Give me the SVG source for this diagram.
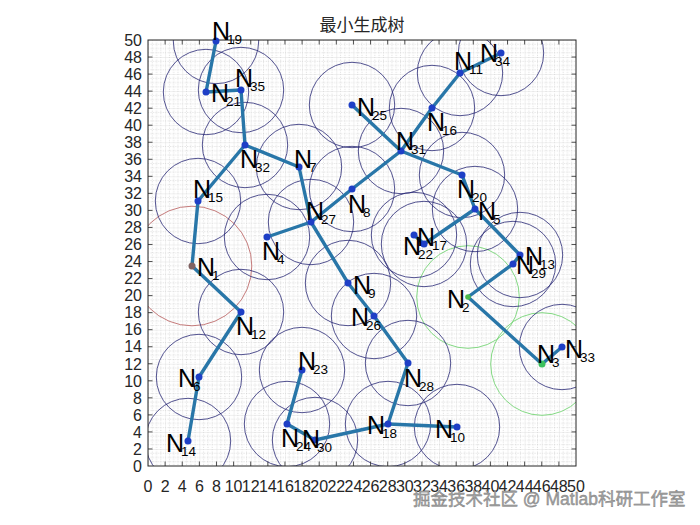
<svg xmlns="http://www.w3.org/2000/svg" width="700" height="525" viewBox="0 0 700 525">
<style>
.t{font-family:"Liberation Sans",Arial,sans-serif;font-size:16px;fill:#262626}
.lb{font-family:"Liberation Sans",Arial,sans-serif;font-size:25px;fill:#000}
.sb{font-size:13.5px}
.c{fill:none;stroke:#262673;stroke-width:0.8}
.cr{fill:none;stroke:#b85a5a;stroke-width:0.8}
.cg{fill:none;stroke:#66d066;stroke-width:0.8}
.e{stroke:#2876a8;stroke-width:3.4;stroke-linecap:round}
.d{fill:#1e3fc6}
</style>
<defs>
<clipPath id="ax"><rect x="148" y="40" width="428" height="426"/></clipPath>
<pattern id="grid" patternUnits="userSpaceOnUse" x="148" y="40" width="17.12" height="17.04">
<path d="M4.28 0V17.04M8.56 0V17.04M12.84 0V17.04M0 4.26H17.12M0 8.52H17.12M0 12.78H17.12" stroke="#c4c4c4" stroke-width="0.6" stroke-dasharray="1 1.5" fill="none"/>
<path d="M0 0V17.04M0 0H17.12" stroke="#d8d8d8" stroke-width="0.8" fill="none"/>
</pattern>
</defs>
<rect width="700" height="525" fill="#fff"/>
<g id="axes">
<rect x="148" y="40" width="428" height="426" fill="#fff"/>
<rect x="148" y="40" width="428" height="426" fill="url(#grid)"/>
</g>
<g id="circles" clip-path="url(#ax)">
<circle class="cr" cx="192" cy="266" r="59.8"/>
<circle class="cg" cx="468" cy="297" r="51.3"/>
<circle class="cg" cx="542" cy="364" r="51.3"/>
<circle class="c" cx="267" cy="237" r="42.7"/>
<circle class="c" cx="475" cy="209" r="42.7"/>
<circle class="c" cx="199" cy="377" r="42.7"/>
<circle class="c" cx="299" cy="167" r="42.7"/>
<circle class="c" cx="352" cy="189" r="42.7"/>
<circle class="c" cx="348" cy="283" r="42.7"/>
<circle class="c" cx="457" cy="427" r="42.7"/>
<circle class="c" cx="460" cy="73" r="42.7"/>
<circle class="c" cx="241" cy="312" r="42.7"/>
<circle class="c" cx="520" cy="255" r="42.7"/>
<circle class="c" cx="188" cy="441" r="42.7"/>
<circle class="c" cx="198" cy="201" r="42.7"/>
<circle class="c" cx="432" cy="108" r="42.7"/>
<circle class="c" cx="424" cy="244" r="42.7"/>
<circle class="c" cx="388" cy="424" r="42.7"/>
<circle class="c" cx="216" cy="41" r="42.7"/>
<circle class="c" cx="462" cy="175" r="42.7"/>
<circle class="c" cx="206" cy="92" r="42.7"/>
<circle class="c" cx="414" cy="235" r="42.7"/>
<circle class="c" cx="302" cy="370" r="42.7"/>
<circle class="c" cx="287" cy="424" r="42.7"/>
<circle class="c" cx="352" cy="105" r="42.7"/>
<circle class="c" cx="374" cy="316" r="42.7"/>
<circle class="c" cx="311" cy="222" r="42.7"/>
<circle class="c" cx="408" cy="363" r="42.7"/>
<circle class="c" cx="513" cy="264" r="42.7"/>
<circle class="c" cx="315" cy="440" r="42.7"/>
<circle class="c" cx="401" cy="151" r="42.7"/>
<circle class="c" cx="245" cy="145" r="42.7"/>
<circle class="c" cx="562" cy="347" r="42.7"/>
<circle class="c" cx="501" cy="53" r="42.7"/>
<circle class="c" cx="241" cy="90" r="42.7"/>
</g>
<g id="frame" fill="none" stroke="#262626">
<rect x="148" y="40" width="428" height="426" stroke-width="1"/>
<path stroke-width="0.8" d="M165.12 466v-4.5M165.12 40v4.5M182.24 466v-4.5M182.24 40v4.5M199.36 466v-4.5M199.36 40v4.5M216.48 466v-4.5M216.48 40v4.5M233.6 466v-4.5M233.6 40v4.5M250.72 466v-4.5M250.72 40v4.5M267.84 466v-4.5M267.84 40v4.5M284.96 466v-4.5M284.96 40v4.5M302.08 466v-4.5M302.08 40v4.5M319.2 466v-4.5M319.2 40v4.5M336.32 466v-4.5M336.32 40v4.5M353.44 466v-4.5M353.44 40v4.5M370.56 466v-4.5M370.56 40v4.5M387.68 466v-4.5M387.68 40v4.5M404.8 466v-4.5M404.8 40v4.5M421.92 466v-4.5M421.92 40v4.5M439.04 466v-4.5M439.04 40v4.5M456.16 466v-4.5M456.16 40v4.5M473.28 466v-4.5M473.28 40v4.5M490.4 466v-4.5M490.4 40v4.5M507.52 466v-4.5M507.52 40v4.5M524.64 466v-4.5M524.64 40v4.5M541.76 466v-4.5M541.76 40v4.5M558.88 466v-4.5M558.88 40v4.5M148 448.96h4.5M576 448.96h-4.5M148 431.92h4.5M576 431.92h-4.5M148 414.88h4.5M576 414.88h-4.5M148 397.84h4.5M576 397.84h-4.5M148 380.8h4.5M576 380.8h-4.5M148 363.76h4.5M576 363.76h-4.5M148 346.72h4.5M576 346.72h-4.5M148 329.68h4.5M576 329.68h-4.5M148 312.64h4.5M576 312.64h-4.5M148 295.6h4.5M576 295.6h-4.5M148 278.56h4.5M576 278.56h-4.5M148 261.52h4.5M576 261.52h-4.5M148 244.48h4.5M576 244.48h-4.5M148 227.44h4.5M576 227.44h-4.5M148 210.4h4.5M576 210.4h-4.5M148 193.36h4.5M576 193.36h-4.5M148 176.32h4.5M576 176.32h-4.5M148 159.28h4.5M576 159.28h-4.5M148 142.24h4.5M576 142.24h-4.5M148 125.2h4.5M576 125.2h-4.5M148 108.16h4.5M576 108.16h-4.5M148 91.12h4.5M576 91.12h-4.5M148 74.08h4.5M576 74.08h-4.5M148 57.04h4.5M576 57.04h-4.5"/>
</g>
<g id="xticks" class="t" text-anchor="middle">
<text x="148" y="492">0</text><text x="165.12" y="492">2</text><text x="182.24" y="492">4</text><text x="199.36" y="492">6</text><text x="216.48" y="492">8</text><text x="233.6" y="492">10</text><text x="250.72" y="492">12</text><text x="267.84" y="492">14</text><text x="284.96" y="492">16</text><text x="302.08" y="492">18</text><text x="319.2" y="492">20</text><text x="336.32" y="492">22</text><text x="353.44" y="492">24</text><text x="370.56" y="492">26</text><text x="387.68" y="492">28</text><text x="404.8" y="492">30</text><text x="421.92" y="492">32</text><text x="439.04" y="492">34</text><text x="456.16" y="492">36</text><text x="473.28" y="492">38</text><text x="490.4" y="492">40</text><text x="507.52" y="492">42</text><text x="524.64" y="492">44</text><text x="541.76" y="492">46</text><text x="558.88" y="492">48</text><text x="576" y="492">50</text>
</g>
<g id="yticks" class="t" text-anchor="end">
<text x="142" y="471.7">0</text><text x="142" y="454.7">2</text><text x="142" y="437.6">4</text><text x="142" y="420.6">6</text><text x="142" y="403.5">8</text><text x="142" y="386.5">10</text><text x="142" y="369.5">12</text><text x="142" y="352.4">14</text><text x="142" y="335.4">16</text><text x="142" y="318.3">18</text><text x="142" y="301.3">20</text><text x="142" y="284.3">22</text><text x="142" y="267.2">24</text><text x="142" y="250.2">26</text><text x="142" y="233.1">28</text><text x="142" y="216.1">30</text><text x="142" y="199.1">32</text><text x="142" y="182">34</text><text x="142" y="165">36</text><text x="142" y="147.9">38</text><text x="142" y="130.9">40</text><text x="142" y="113.9">42</text><text x="142" y="96.8">44</text><text x="142" y="79.8">46</text><text x="142" y="62.7">48</text><text x="142" y="45.7">50</text>
</g>
<text id="title" x="362" y="31" text-anchor="middle" style="font-family:'Noto Sans CJK SC',sans-serif;font-size:17px;fill:#262626">最小生成树</text>
<g id="connectors">
<line class="e" x1="216" y1="41" x2="206" y2="92"/>
<line class="e" x1="206" y1="92" x2="241" y2="90"/>
<line class="e" x1="241" y1="90" x2="245" y2="145"/>
<line class="e" x1="245" y1="145" x2="299" y2="167"/>
<line class="e" x1="245" y1="145" x2="198" y2="201"/>
<line class="e" x1="198" y1="201" x2="192" y2="266"/>
<line class="e" x1="192" y1="266" x2="241" y2="312"/>
<line class="e" x1="241" y1="312" x2="199" y2="377"/>
<line class="e" x1="199" y1="377" x2="188" y2="441"/>
<line class="e" x1="299" y1="167" x2="311" y2="222"/>
<line class="e" x1="267" y1="237" x2="311" y2="222"/>
<line class="e" x1="311" y1="222" x2="352" y2="189"/>
<line class="e" x1="352" y1="189" x2="401" y2="151"/>
<line class="e" x1="352" y1="105" x2="401" y2="151"/>
<line class="e" x1="401" y1="151" x2="432" y2="108"/>
<line class="e" x1="432" y1="108" x2="460" y2="73"/>
<line class="e" x1="460" y1="73" x2="501" y2="53"/>
<line class="e" x1="401" y1="151" x2="462" y2="175"/>
<line class="e" x1="462" y1="175" x2="475" y2="209"/>
<line class="e" x1="475" y1="209" x2="424" y2="244"/>
<line class="e" x1="424" y1="244" x2="414" y2="235"/>
<line class="e" x1="475" y1="209" x2="520" y2="255"/>
<line class="e" x1="520" y1="255" x2="513" y2="264"/>
<line class="e" x1="513" y1="264" x2="468" y2="297"/>
<line class="e" x1="468" y1="297" x2="542" y2="364"/>
<line class="e" x1="542" y1="364" x2="562" y2="347"/>
<line class="e" x1="311" y1="222" x2="348" y2="283"/>
<line class="e" x1="348" y1="283" x2="374" y2="316"/>
<line class="e" x1="374" y1="316" x2="408" y2="363"/>
<line class="e" x1="408" y1="363" x2="388" y2="424"/>
<line class="e" x1="388" y1="424" x2="457" y2="427"/>
<line class="e" x1="388" y1="424" x2="315" y2="440"/>
<line class="e" x1="315" y1="440" x2="287" y2="424"/>
<line class="e" x1="287" y1="424" x2="302" y2="370"/>
</g>
<g id="N1"><circle cx="192" cy="266" r="3.5" fill="#806262"/><text class="lb" x="197" y="276">N<tspan class="sb" dx="-3" dy="3.5">1</tspan></text></g>
<g id="N2"><circle cx="468" cy="297" r="2.8" fill="#4cb84c"/><text class="lb" x="447" y="308">N<tspan class="sb" dx="-3" dy="3.5">2</tspan></text></g>
<g id="N3"><circle cx="542" cy="364" r="3.5" fill="#3cc05c"/><text class="lb" x="537" y="363">N<tspan class="sb" dx="-3" dy="3.5">3</tspan></text></g>
<g id="N4"><circle class="d" cx="267" cy="237" r="3.5"/><text class="lb" x="262" y="260">N<tspan class="sb" dx="-3" dy="3.5">4</tspan></text></g>
<g id="N5"><circle class="d" cx="475" cy="209" r="3.5"/><text class="lb" x="478" y="220">N<tspan class="sb" dx="-3" dy="3.5">5</tspan></text></g>
<g id="N6"><circle class="d" cx="199" cy="377" r="3.5"/><text class="lb" x="178" y="387">N<tspan class="sb" dx="-3" dy="3.5">6</tspan></text></g>
<g id="N7"><circle class="d" cx="299" cy="167" r="3.5"/><text class="lb" x="294" y="168">N<tspan class="sb" dx="-3" dy="3.5">7</tspan></text></g>
<g id="N8"><circle class="d" cx="352" cy="189" r="3.5"/><text class="lb" x="348" y="213">N<tspan class="sb" dx="-3" dy="3.5">8</tspan></text></g>
<g id="N9"><circle class="d" cx="348" cy="283" r="3.5"/><text class="lb" x="353" y="294">N<tspan class="sb" dx="-3" dy="3.5">9</tspan></text></g>
<g id="N10"><circle class="d" cx="457" cy="427" r="3.5"/><text class="lb" x="435" y="438">N<tspan class="sb" dx="-3" dy="3.5">10</tspan></text></g>
<g id="N11"><circle class="d" cx="460" cy="73" r="3.5"/><text class="lb" x="454" y="70">N<tspan class="sb" dx="-3" dy="3.5">11</tspan></text></g>
<g id="N12"><circle class="d" cx="241" cy="312" r="3.5"/><text class="lb" x="236" y="335">N<tspan class="sb" dx="-3" dy="3.5">12</tspan></text></g>
<g id="N13"><circle class="d" cx="520" cy="255" r="3.5"/><text class="lb" x="525" y="265">N<tspan class="sb" dx="-3" dy="3.5">13</tspan></text></g>
<g id="N14"><circle class="d" cx="188" cy="441" r="3.5"/><text class="lb" x="166" y="452">N<tspan class="sb" dx="-3" dy="3.5">14</tspan></text></g>
<g id="N15"><circle class="d" cx="198" cy="201" r="3.5"/><text class="lb" x="193" y="198">N<tspan class="sb" dx="-3" dy="3.5">15</tspan></text></g>
<g id="N16"><circle class="d" cx="432" cy="108" r="3.5"/><text class="lb" x="427" y="131">N<tspan class="sb" dx="-3" dy="3.5">16</tspan></text></g>
<g id="N17"><circle class="d" cx="424" cy="244" r="3.5"/><text class="lb" x="417" y="246">N<tspan class="sb" dx="-3" dy="3.5">17</tspan></text></g>
<g id="N18"><circle class="d" cx="388" cy="424" r="3.5"/><text class="lb" x="367" y="434">N<tspan class="sb" dx="-3" dy="3.5">18</tspan></text></g>
<g id="N19"><circle class="d" cx="216" cy="41" r="3.5"/><text class="lb" x="212" y="40">N<tspan class="sb" dx="-3" dy="3.5">19</tspan></text></g>
<g id="N20"><circle class="d" cx="462" cy="175" r="3.5"/><text class="lb" x="457" y="198">N<tspan class="sb" dx="-3" dy="3.5">20</tspan></text></g>
<g id="N21"><circle class="d" cx="206" cy="92" r="3.5"/><text class="lb" x="211" y="102">N<tspan class="sb" dx="-3" dy="3.5">21</tspan></text></g>
<g id="N22"><circle class="d" cx="414" cy="235" r="3.5"/><text class="lb" x="403" y="255">N<tspan class="sb" dx="-3" dy="3.5">22</tspan></text></g>
<g id="N23"><circle class="d" cx="302" cy="370" r="3.5"/><text class="lb" x="298" y="370">N<tspan class="sb" dx="-3" dy="3.5">23</tspan></text></g>
<g id="N24"><circle class="d" cx="287" cy="424" r="3.5"/><text class="lb" x="281" y="447">N<tspan class="sb" dx="-3" dy="3.5">24</tspan></text></g>
<g id="N25"><circle class="d" cx="352" cy="105" r="3.5"/><text class="lb" x="357" y="116">N<tspan class="sb" dx="-3" dy="3.5">25</tspan></text></g>
<g id="N26"><circle class="d" cx="374" cy="316" r="3.5"/><text class="lb" x="351" y="326">N<tspan class="sb" dx="-3" dy="3.5">26</tspan></text></g>
<g id="N27"><circle class="d" cx="311" cy="222" r="3.5"/><text class="lb" x="306" y="220">N<tspan class="sb" dx="-3" dy="3.5">27</tspan></text></g>
<g id="N28"><circle class="d" cx="408" cy="363" r="3.5"/><text class="lb" x="404" y="387">N<tspan class="sb" dx="-3" dy="3.5">28</tspan></text></g>
<g id="N29"><circle class="d" cx="513" cy="264" r="3.5"/><text class="lb" x="516" y="274">N<tspan class="sb" dx="-3" dy="3.5">29</tspan></text></g>
<g id="N30"><circle class="d" cx="315" cy="440" r="3.5"/><text class="lb" x="302" y="448">N<tspan class="sb" dx="-3" dy="3.5">30</tspan></text></g>
<g id="N31"><circle class="d" cx="401" cy="151" r="3.5"/><text class="lb" x="396" y="150">N<tspan class="sb" dx="-3" dy="3.5">31</tspan></text></g>
<g id="N32"><circle class="d" cx="245" cy="145" r="3.5"/><text class="lb" x="240" y="168">N<tspan class="sb" dx="-3" dy="3.5">32</tspan></text></g>
<g id="N33"><circle class="d" cx="562" cy="347" r="3.5"/><text class="lb" x="565" y="358">N<tspan class="sb" dx="-3" dy="3.5">33</tspan></text></g>
<g id="N34"><circle class="d" cx="501" cy="53" r="3.5"/><text class="lb" x="480" y="62">N<tspan class="sb" dx="-3" dy="3.5">34</tspan></text></g>
<g id="N35"><circle class="d" cx="241" cy="90" r="3.5"/><text class="lb" x="235" y="87">N<tspan class="sb" dx="-3" dy="3.5">35</tspan></text></g>
<text id="watermark" x="413" y="505" style="font-family:'Liberation Sans','Noto Sans CJK SC',sans-serif;font-size:17.5px;fill:#a4a4a4;stroke:#7a7a7a;stroke-width:0.4">掘金技术社区 @ Matlab科研工作室</text>
</svg>
